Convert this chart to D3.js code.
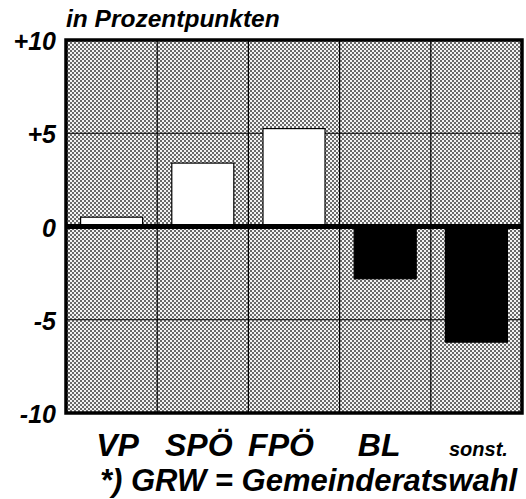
<!DOCTYPE html>
<html><head><meta charset="utf-8">
<script src="https://cdn.jsdelivr.net/npm/d3@7"></script>
<style>html,body{margin:0;padding:0;background:#fff;}svg{display:block;}</style>
</head><body>
<script>
const categories = ["VP", "SPÖ", "FPÖ", "BL", "sonst."];
const values = [0.5, 3.4, 5.25, -2.8, -6.2];
const yTicks = [10, 5, 0, -5, -10];
const yTickLabels = ["+10", "+5", "0", "-5", "-10"];
const title = "in Prozentpunkten";
const footnote = "*) GRW = Gemeinderatswahl";

const W = 526, H = 499;
const m = {left: 66, right: 4, top: 40, bottom: 86};
const svg = d3.select("body").append("svg").attr("width", W).attr("height", H);
const font = "'Liberation Sans', Arial, sans-serif";

const defs = svg.append("defs");
const pat = defs.append("pattern").attr("id", "dots").attr("patternUnits", "userSpaceOnUse")
  .attr("width", 4).attr("height", 4);
pat.append("rect").attr("width", 4).attr("height", 4).attr("fill", "#f4f4f4");
pat.append("rect").attr("width", 2).attr("height", 2).attr("fill", "#6a6a6a");
pat.append("rect").attr("x", 2).attr("y", 2).attr("width", 2).attr("height", 2).attr("fill", "#6a6a6a");

const x = d3.scaleBand().domain(categories).range([m.left, W - m.right]).paddingInner(0).paddingOuter(0);
const y = d3.scaleLinear().domain([-10, 10]).range([H - m.bottom, m.top]);

// background
svg.append("rect").attr("x", m.left).attr("y", m.top)
  .attr("width", W - m.right - m.left).attr("height", y(-10) - y(10)).attr("fill", "url(#dots)");

// vertical gridlines at category boundaries
svg.append("g").selectAll("line").data(categories.slice(1)).join("line")
  .attr("x1", d => x(d)).attr("x2", d => x(d)).attr("y1", y(10)).attr("y2", y(-10))
  .attr("stroke", "#000").attr("stroke-width", 1.2);
// horizontal gridlines
svg.append("g").selectAll("line").data([5, -5]).join("line")
  .attr("x1", m.left).attr("x2", W - m.right).attr("y1", d => y(d)).attr("y2", d => y(d))
  .attr("stroke", "#000").attr("stroke-width", 1.2);

// bars
const bw = x.bandwidth() * 0.68;
svg.append("g").selectAll("rect").data(categories).join("rect")
  .attr("x", d => x(d) + (x.bandwidth() - bw) / 2)
  .attr("width", bw)
  .attr("y", (d, i) => y(Math.max(0, values[i])))
  .attr("height", (d, i) => Math.abs(y(values[i]) - y(0)))
  .attr("fill", (d, i) => values[i] >= 0 ? "#fff" : "#000")
  .attr("stroke", "#000").attr("stroke-width", 1.2);

// zero line
svg.append("line").attr("x1", m.left).attr("x2", W - m.right).attr("y1", y(0)).attr("y2", y(0))
  .attr("stroke", "#000").attr("stroke-width", 5);

// border
svg.append("rect").attr("x", m.left).attr("y", m.top)
  .attr("width", W - m.right - m.left).attr("height", y(-10) - y(10))
  .attr("fill", "none").attr("stroke", "#000").attr("stroke-width", 3.5);

// y axis labels
const yAxis = d3.axisLeft(y).tickValues(yTicks).tickSize(0).tickPadding(10)
  .tickFormat((d, i) => yTickLabels[i]);
const gy = svg.append("g").attr("transform", `translate(${m.left - 1},0)`).call(yAxis);
gy.select(".domain").remove();
gy.selectAll("text").attr("font-family", font).attr("font-weight", "bold").attr("font-style", "italic")
  .attr("font-size", 25).attr("fill", "#000").attr("dy", "0.38em").attr("dx", "1");

// x axis labels
const xOffsets = {"VP": 6, "SPÖ": -4, "FPÖ": -13, "BL": -6, "sonst.": 2};
const xAxis = d3.axisBottom(x).tickSize(0).tickPadding(0);
const gx = svg.append("g").attr("transform", `translate(0,${y(-10)})`).call(xAxis);
gx.select(".domain").remove();
gx.selectAll("text").attr("font-family", font).attr("font-weight", "bold").attr("font-style", "italic")
  .attr("font-size", d => d === "sonst." ? 20 : 32).attr("fill", "#000")
  .attr("dy", null).attr("y", 43).attr("dx", d => xOffsets[d]);

// title
svg.append("text").attr("x", 66).attr("y", 27).text(title)
  .attr("font-family", font).attr("font-weight", "bold").attr("font-style", "italic").attr("font-size", 24.5);

// footnote
svg.append("text").attr("x", 100).attr("y", 491).text(footnote)
  .attr("font-family", font).attr("font-weight", "bold").attr("font-style", "italic").attr("font-size", 31);
</script>
</body></html>
